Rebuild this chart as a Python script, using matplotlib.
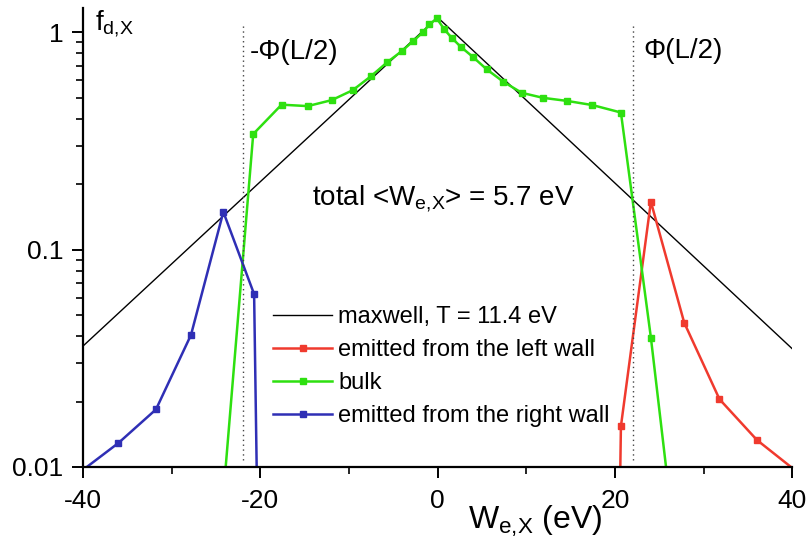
"""
Electron energy distribution f_d,X vs W_e,X, log scale, with maxwell fit.
"""

import matplotlib

matplotlib.use("Agg")
import matplotlib.pyplot as plt
from matplotlib.ticker import LogLocator, NullFormatter

plt.rcParams["font.family"] = ["Liberation Sans", "DejaVu Sans"]
plt.rcParams["mathtext.fontset"] = "custom"
plt.rcParams["mathtext.rm"] = "Liberation Sans"
plt.rcParams["mathtext.it"] = "Liberation Sans"
plt.rcParams["axes.unicode_minus"] = False

# ------------------------------------------------------------------ data

maxwell_w = [-40, 0, 40]
maxwell_f = [0.036, 1.17, 0.035]

bulk_w = [-24.0, -20.8, -17.6, -14.65, -11.94, -9.57, -7.5, -5.67, -4.04, -2.73,
          -1.60, -0.93, -0.09, 0.77, 1.6, 2.62, 3.97, 5.55, 7.43, 9.5, 11.87,
          14.58, 17.47, 20.68, 24.06, 25.9]
bulk_f = [0.009, 0.340, 0.464, 0.457, 0.487, 0.541, 0.628, 0.728, 0.818, 0.912,
          1.003, 1.085, 1.156, 1.029, 0.941, 0.856, 0.770, 0.674, 0.591, 0.526, 0.499,
          0.483, 0.462, 0.427, 0.0394, 0.009]

left_w = [20.6, 20.68, 24.06, 27.82, 31.8, 36.03, 40.0]
left_f = [0.0093, 0.0154, 0.166, 0.0461, 0.0205, 0.0133, 0.0099]

right_w = [-40.0, -36.0, -31.77, -27.82, -24.17, -20.7, -20.4]
right_f = [0.0097, 0.0129, 0.0184, 0.0405, 0.149, 0.0624, 0.0093]

phi_half = 22.0

# ------------------------------------------------------------------ plot

fig = plt.figure(figsize=(8.1, 5.42), dpi=100)
ax = fig.add_axes([0.1025, 0.1384, 0.8755, 0.8466])

ax.plot(maxwell_w, maxwell_f, color="black", lw=1.0, label="maxwell, T = 11.4 eV")
ax.plot(left_w, left_f, color="#f03a2e", lw=1.8, marker="s", ms=4.5,
        markevery=list(range(1, len(left_w) - 1)), label="emitted from the left wall")
ax.plot(bulk_w, bulk_f, color="#2ee010", lw=1.8, marker="s", ms=4.5,
        markevery=list(range(1, len(bulk_w) - 1)), label="bulk")
ax.plot(right_w, right_f, color="#2f2fb5", lw=1.8, marker="s", ms=4.5,
        markevery=list(range(1, len(right_w) - 1)), label="emitted from the right wall")

for xv in (-phi_half, phi_half):
    ax.plot([xv, xv], [0.0108, 1.1], color="#444444", lw=1.0, ls=(0, (1, 2.5)))

ax.set_yscale("log")
ax.set_xlim(-40, 40)
ax.set_ylim(0.01, 1.29)
ax.set_xticks([-40, -20, 0, 20, 40])
ax.set_xticks([-30, -10, 10, 30], minor=True)
ax.set_yticks([0.01, 0.1, 1])
ax.set_yticklabels(["0.01", "0.1", "1"])
ax.yaxis.set_minor_locator(LogLocator(base=10, subs=range(2, 10)))
ax.yaxis.set_minor_formatter(NullFormatter())

for side in ("top", "right"):
    ax.spines[side].set_visible(False)
for side in ("left", "bottom"):
    ax.spines[side].set_linewidth(1.6)
ax.tick_params(which="major", direction="out", length=8, width=1.4, labelsize=19)
ax.tick_params(axis="x", which="major", pad=8)
ax.tick_params(axis="y", which="major", pad=6)
ax.tick_params(which="minor", direction="out", length=5, width=1.2)

ax.set_xlabel("W$_{\\mathrm{e{,}X}}$ (eV)", fontsize=23, ha="left", va="baseline")
ax.xaxis.set_label_coords(0.543, -0.135)

ax.text(-38.6, 1.02, "f$_{\\mathrm{d{,}X}}$", fontsize=20, va="baseline")
ax.text(-21.2, 0.81, "-Φ(L/2)", fontsize=20, va="center")
ax.text(23.2, 0.82, "Φ(L/2)", fontsize=20, va="center")
ax.text(-14.2, 0.160, "total <W$_{\\mathrm{e{,}X}}$> = 5.7 eV", fontsize=20, va="baseline")

ax.legend(loc="upper left", bbox_to_anchor=(0.268, 0.351), frameon=False, fontsize=17,
          borderpad=0, borderaxespad=0, handlelength=2.5, handletextpad=0.25,
          labelspacing=0.47)

fig.savefig("out.png", dpi=100)
